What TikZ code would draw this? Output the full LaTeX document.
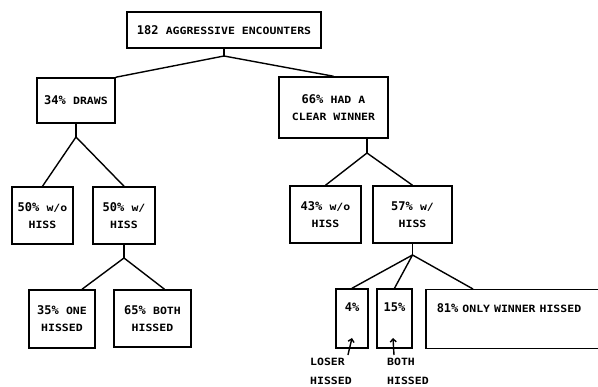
\documentclass[tikz,border=0pt]{standalone}
\usepackage{fontspec}
\setmonofont{DejaVu Sans Mono}
\newfontfamily\capsfont[FakeStretch=1.15]{DejaVu Sans Mono}
\newcommand{\smtxt}[1]{{\capsfont\fontsize{10}{17}\selectfont #1}}
\usetikzlibrary{arrows.meta}

\begin{document}
\begin{tikzpicture}[x=1pt, y=-1pt,
every node/.style = {font=\ttfamily\bfseries\fontsize{12}{17}\selectfont, align=center},
box/.style = {draw, line width=1.5pt, inner sep=0pt},
topbox/.style = {box, inner ysep=2pt, text height=21pt, text depth=34pt},
note/.style = {inner sep=0pt, align=left, font=\capsfont\bfseries\fontsize{10}{19}\selectfont},
link/.style = {line width=1.4pt}]

\useasboundingbox (0,0) rectangle (598,387);
\clip (0,0) rectangle (598,387);

% boxes
\node[box, minimum width=194pt, minimum height=36pt] (root) at (224,30)
  {182 \smtxt{AGGRESSIVE ENCOUNTERS}};
\node[box, minimum width=78pt, minimum height=45pt] (draws) at (76,100.5)
  {34\% \smtxt{DRAWS}};
\node[box, minimum width=109pt, minimum height=61pt] (winner) at (333.5,107.5)
  {66\% \smtxt{HAD A}\\ \smtxt{CLEAR WINNER}};
\node[box, minimum width=61pt, minimum height=57pt] (nohissA) at (42.5,215.5)
  {50\% \smtxt{w/o}\\ \smtxt{HISS}};
\node[box, minimum width=62pt, minimum height=57pt] (hissA) at (124,215.5)
  {50\% \smtxt{w/}\\ \smtxt{HISS}};
\node[box, minimum width=66pt, minimum height=58pt] (one) at (62,319)
  {35\% \smtxt{ONE}\\ \smtxt{HISSED}};
\node[box, minimum width=77pt, minimum height=57pt] (both) at (152.5,318.5)
  {65\% \smtxt{BOTH}\\ \smtxt{HISSED}};
\node[box, minimum width=71pt, minimum height=57pt] (nohissB) at (325.5,214.5)
  {43\% \smtxt{w/o}\\ \smtxt{HISS}};
\node[box, minimum width=79pt, minimum height=57pt] (hissB) at (412.5,214.5)
  {57\% \smtxt{w/}\\ \smtxt{HISS}};
\node[topbox, minimum width=32pt] (four) at (352,318.5) {4\%};
\node[topbox, minimum width=35pt] (fifteen) at (394.5,318.5) {15\%};
\node[topbox, anchor=north west, inner xsep=11pt, text width=170pt, align=left]
  (only) at (425,289) {81\% \smtxt{ONLY WINNER HISSED}};

% labels under the small boxes
\node[note, anchor=north west] (loser) at (310,358) {LOSER\\HISSED};
\node[note, anchor=north west] (bothhiss) at (387,358) {BOTH\\HISSED};
\coordinate (loserin) at (352,338);
\coordinate (bothin) at (393,338);

% junctions
\coordinate (j0) at (224,56);
\coordinate (j1) at (76,137);
\coordinate (j2) at (367,153);
\coordinate (j3) at (124,258);
\coordinate (j4) at (412.5,255);

\draw[link] (root.south) -- (j0);
\draw[link] (j0) -- (draws.north east);
\draw[link] (j0) -- (winner.north);
\draw[link] (draws.south) -- (j1);
\draw[link] (j1) -- (nohissA.north);
\draw[link] (j1) -- (hissA.north);
\draw[link] (winner.south -| j2) -- (j2);
\draw[link] (j2) -- (nohissB.north);
\draw[link] (j2) -- (hissB.north);
\draw[link] (hissA.south) -- (j3);
\draw[link] (j3) -- ([xshift=20pt]one.north);
\draw[link] (j3) -- ([xshift=12pt]both.north);
\draw[link] (hissB.south) -- (j4);
\draw[link] (j4) -- (four.north);
\draw[link] (j4) -- (fifteen.north);
\draw[link] (j4) -- ([xshift=48pt]only.north west);

% arrows
\draw[link, -{Straight Barb[length=3pt, width=6pt]}] ([xshift=-4pt, yshift=3pt]loser.north east) -- (loserin);
\draw[link, -{Straight Barb[length=3pt, width=6pt]}] ([xshift=7pt, yshift=3pt]bothhiss.north west) -- (bothin);
\end{tikzpicture}
\end{document}
